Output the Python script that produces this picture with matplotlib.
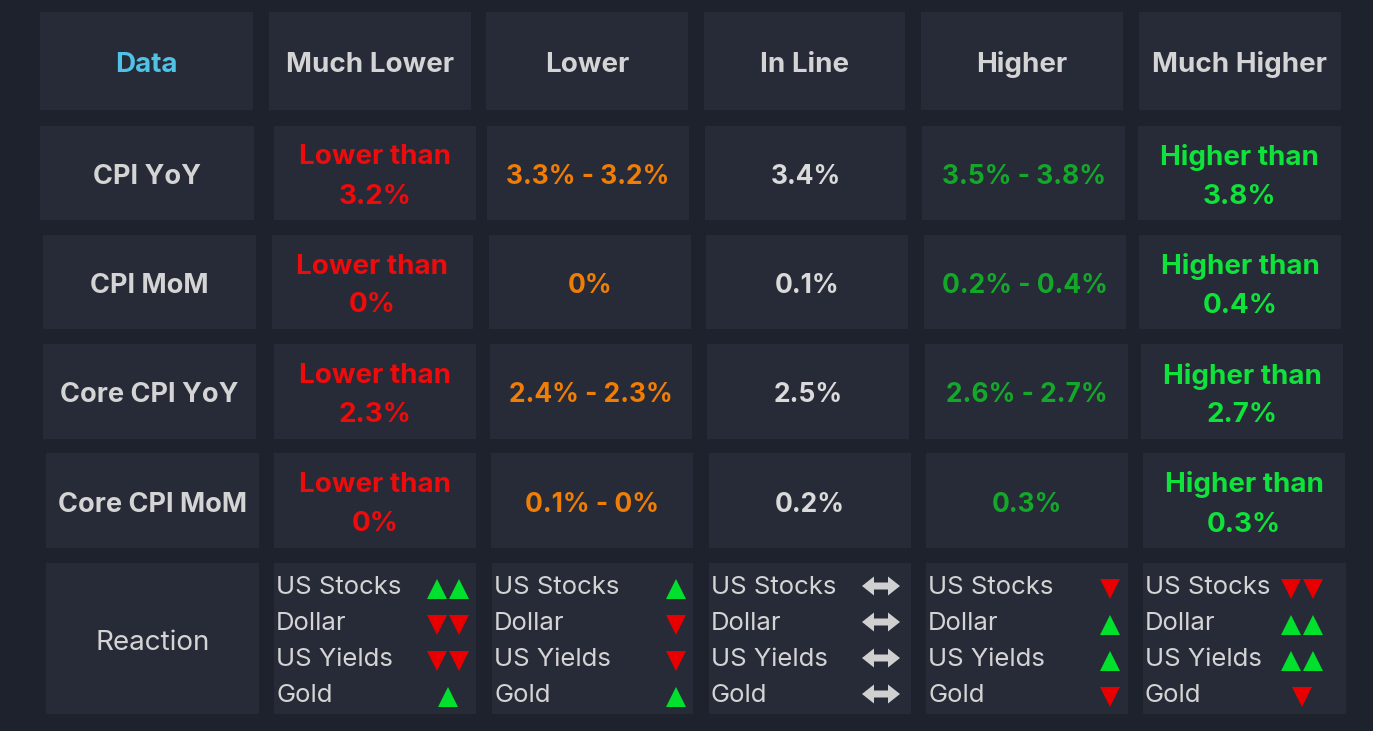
import matplotlib
matplotlib.use("Agg")
import matplotlib.pyplot as plt
from matplotlib.patches import Rectangle, Polygon

# ---------------- data ----------------
columns = ["Data", "Much Lower", "Lower", "In Line", "Higher", "Much Higher"]
row_labels = ["CPI YoY", "CPI MoM", "Core CPI YoY", "Core CPI MoM"]
cpi_yoy = ["Lower than\n3.2%", "3.3% - 3.2%", "3.4%", "3.5% - 3.8%", "Higher than\n3.8%"]
cpi_mom = ["Lower than\n0%", "0%", "0.1%", "0.2% - 0.4%", "Higher than\n0.4%"]
core_yoy = ["Lower than\n2.3%", "2.4% - 2.3%", "2.5%", "2.6% - 2.7%", "Higher than\n2.7%"]
core_mom = ["Lower than\n0%", "0.1% - 0%", "0.2%", "0.3%", "Higher than\n0.3%"]
values = [cpi_yoy, cpi_mom, core_yoy, core_mom]

reaction_label = "Reaction"
assets = ["US Stocks", "Dollar", "US Yields", "Gold"]
# +n = n up triangles, -n = n down triangles, 0 = unchanged
react_much_lower = [2, -2, -2, 1]
react_lower = [1, -1, -1, 1]
react_in_line = [0, 0, 0, 0]
react_higher = [-1, 1, 1, -1]
react_much_higher = [-2, 2, 2, -1]
reactions = [react_much_lower, react_lower, react_in_line, react_higher, react_much_higher]

# ---------------- style ----------------
BG = "#1e222d"
CELL = "#262b37"
TXT = "#d4d4d4"
HEAD_DATA = "#4ec3e6"
col_colors = ["#ee0b0b", "#f07d05", "#dadada", "#14a82b", "#0fe23a"]
UP = "#00e02c"
DOWN = "#e80000"
ARROW = "#d0d0d0"
FONT = ["Inter", "DejaVu Sans"]

# cell boxes per row (x0, x1) in pixels, and row spans (y0, y1)
row_y = [(12, 110), (126, 220), (235, 329), (344, 439), (453, 548), (563, 714)]
row_x = [
    [(40, 253), (269, 471), (486, 688), (704, 905), (921, 1123), (1139, 1341)],
    [(40, 254), (274, 476), (487, 689), (705, 906), (922, 1125), (1138, 1341)],
    [(43, 256), (272, 473), (489, 691), (706, 908), (924, 1126), (1139, 1341)],
    [(43, 256), (274, 476), (490, 692), (707, 909), (925, 1128), (1141, 1343)],
    [(46, 259), (274, 476), (491, 693), (709, 911), (926, 1128), (1143, 1345)],
    [(46, 259), (274, 476), (492, 693), (709, 911), (926, 1128), (1143, 1346)],
]
sym_x = [448, 676, 881, 1110, 1302]
line_y = [588, 624, 660, 696]
DY = 4  # text vertical nudge

W, H = 1373, 731
fig = plt.figure(figsize=(W / 100, H / 100), dpi=100, facecolor=BG)
ax = fig.add_axes([0, 0, 1, 1])
ax.set_xlim(0, W)
ax.set_ylim(H, 0)
ax.axis("off")
ax.set_facecolor(BG)

def cell(r, c):
    x0, x1 = row_x[r][c]
    y0, y1 = row_y[r]
    ax.add_patch(Rectangle((x0, y0), x1 - x0, y1 - y0, facecolor=CELL, edgecolor="none"))
    return (x0 + x1) / 2, (y0 + y1) / 2

# header row
for c, name in enumerate(columns):
    cx, cy = cell(0, c)
    ax.text(cx, cy + DY, name, ha="center", va="center", fontsize=20, fontweight="bold",
            color=HEAD_DATA if c == 0 else TXT, family=FONT)

# data rows
for r, (lab, vals) in enumerate(zip(row_labels, values), start=1):
    cx, cy = cell(r, 0)
    ax.text(cx, cy + DY, lab, ha="center", va="center", fontsize=19.5, fontweight="bold",
            color=TXT, family=FONT)
    for c, v in enumerate(vals, start=1):
        cx, cy = cell(r, c)
        fs = 20 if "\n" in v else 19
        ax.text(cx, cy + DY, v, ha="center", va="center", fontsize=fs, fontweight="bold",
                color=col_colors[c - 1], family=FONT, linespacing=1.65)

# reaction row
cx, cy = cell(5, 0)
ax.text(cx, cy + DY, reaction_label, ha="center", va="center", fontsize=20, color=TXT, family=FONT)

def double_arrow(x, y):
    w, h, t, hl = 38, 19, 7, 12
    pts = [(x - w / 2, y), (x - w / 2 + hl, y - h / 2), (x - w / 2 + hl, y - t / 2),
           (x + w / 2 - hl, y - t / 2), (x + w / 2 - hl, y - h / 2), (x + w / 2, y),
           (x + w / 2 - hl, y + h / 2), (x + w / 2 - hl, y + t / 2),
           (x - w / 2 + hl, y + t / 2), (x - w / 2 + hl, y + h / 2)]
    ax.add_patch(Polygon(pts, closed=True, facecolor=ARROW, edgecolor="none"))

for c, react in enumerate(reactions, start=1):
    cell(5, c)
    x0 = row_x[5][c][0]
    for i, (asset, v) in enumerate(zip(assets, react)):
        y = line_y[i]
        ax.text(x0 + 2, y, asset, ha="left", va="center", fontsize=18.5, color=TXT, family=FONT)
        sx = sym_x[c - 1]
        if v == 0:
            double_arrow(sx, y - 2)
        else:
            n = abs(v)
            marker = "^" if v > 0 else "v"
            color = UP if v > 0 else DOWN
            offs = [0] if n == 1 else [-11, 11]
            for o in offs:
                ax.plot(sx + o, y + 1, marker=marker, markersize=15, color=color,
                        markeredgewidth=0, linestyle="none")

fig.savefig("out.png", dpi=100, facecolor=BG)
